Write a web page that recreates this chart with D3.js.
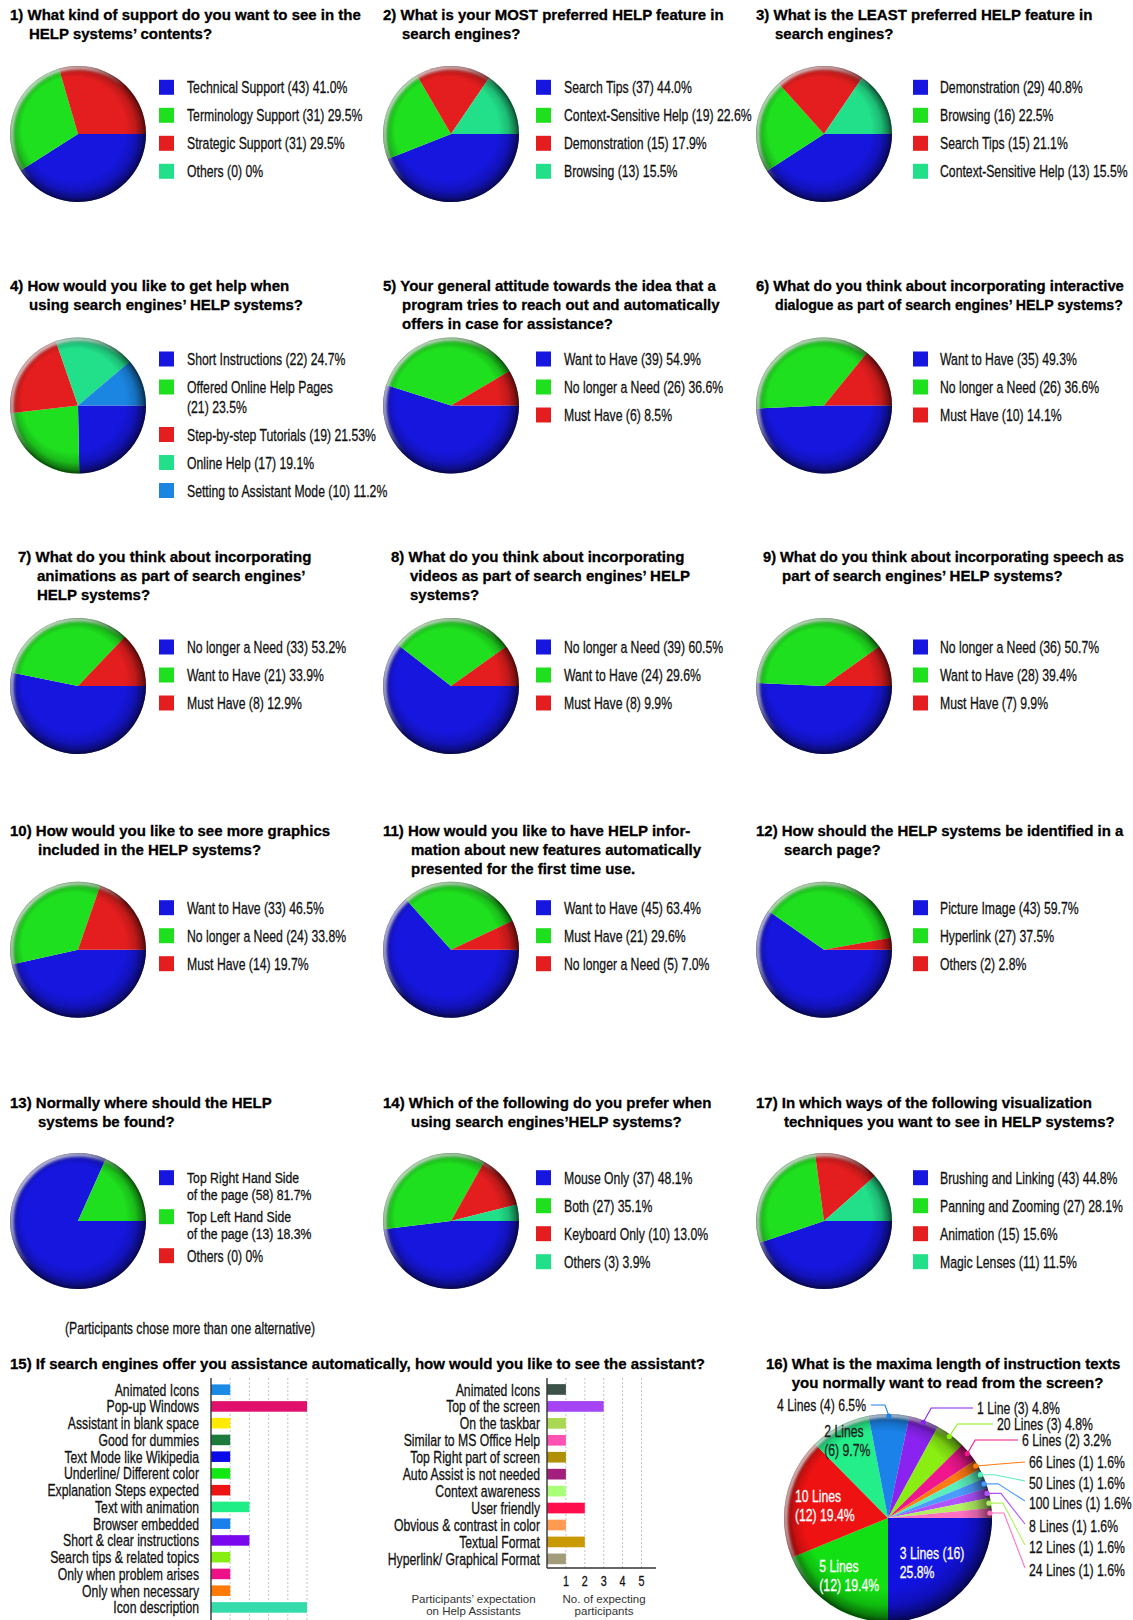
<!DOCTYPE html>
<html><head><meta charset="utf-8">
<script src="https://cdn.jsdelivr.net/npm/d3@7/dist/d3.min.js"></script>
<style>html,body{margin:0;padding:0;background:#fff;}svg{display:block;}</style>
</head><body>
<svg id="chart" width="1133" height="1620"></svg>
<script>
// ================= DATA =================
const pieColors = ["#1616de","#1fe01f","#e41e1e","#22df8a","#1a86e2"];

const q1Title = ["1) What kind of support do you want to see in the","HELP systems’ contents?"];
const q1Names = ["Technical Support","Terminology Support","Strategic Support","Others"];
const q1Counts = [43,31,31,0];
const q1Shares = ["41.0","29.5","29.5","0"];

const q2Title = ["2) What is your MOST preferred HELP feature in","search engines?"];
const q2Names = ["Search Tips","Context-Sensitive Help","Demonstration","Browsing"];
const q2Counts = [37,19,15,13];
const q2Shares = ["44.0","22.6","17.9","15.5"];

const q3Title = ["3) What is the LEAST preferred HELP feature in","search engines?"];
const q3Names = ["Demonstration","Browsing","Search Tips","Context-Sensitive Help"];
const q3Counts = [29,16,15,13];
const q3Shares = ["40.8","22.5","21.1","15.5"];

const q4Title = ["4) How would you like to get help when","using search engines’ HELP systems?"];
const q4Names = ["Short Instructions","Offered Online Help Pages\n","Step-by-step Tutorials","Online Help","Setting to Assistant Mode"];
const q4Counts = [22,21,19,17,10];
const q4Shares = ["24.7","23.5","21.53","19.1","11.2"];

const q5Title = ["5) Your general attitude towards the idea that a","program tries to reach out and automatically","offers in case for assistance?"];
const q5Names = ["Want to Have","No longer a Need","Must Have"];
const q5Counts = [39,26,6];
const q5Shares = ["54.9","36.6","8.5"];

const q6Title = ["6) What do you think about incorporating interactive","dialogue as part of search engines’ HELP systems?"];
const q6Names = ["Want to Have","No longer a Need","Must Have"];
const q6Counts = [35,26,10];
const q6Shares = ["49.3","36.6","14.1"];

const q7Title = ["7) What do you think about incorporating","animations as part of search engines’","HELP systems?"];
const q7Names = ["No longer a Need","Want to Have","Must Have"];
const q7Counts = [33,21,8];
const q7Shares = ["53.2","33.9","12.9"];

const q8Title = ["8) What do you think about incorporating","videos as part of search engines’ HELP","systems?"];
const q8Names = ["No longer a Need","Want to Have","Must Have"];
const q8Counts = [39,24,8];
const q8Shares = ["60.5","29.6","9.9"];

const q9Title = ["9) What do you think about incorporating speech as","part of search engines’ HELP systems?"];
const q9Names = ["No longer a Need","Want to Have","Must Have"];
const q9Counts = [36,28,7];
const q9Shares = ["50.7","39.4","9.9"];

const q10Title = ["10) How would you like to see more graphics","included in the HELP systems?"];
const q10Names = ["Want to Have","No longer a Need","Must Have"];
const q10Counts = [33,24,14];
const q10Shares = ["46.5","33.8","19.7"];

const q11Title = ["11) How would you like to have HELP infor-","mation about new features automatically","presented for the first time use."];
const q11Names = ["Want to Have","Must Have","No longer a Need"];
const q11Counts = [45,21,5];
const q11Shares = ["63.4","29.6","7.0"];

const q12Title = ["12) How should the HELP systems be identified in a","search page?"];
const q12Names = ["Picture Image","Hyperlink","Others"];
const q12Counts = [43,27,2];
const q12Shares = ["59.7","37.5","2.8"];

const q13Title = ["13) Normally where should the HELP","systems be found?"];
const q13Names = ["Top Right Hand Side\nof the page","Top Left Hand Side\nof the page","Others"];
const q13Counts = [58,13,0];
const q13Shares = ["81.7","18.3","0"];

const q14Title = ["14) Which of the following do you prefer when","using search engines’HELP systems?"];
const q14Names = ["Mouse Only","Both","Keyboard Only","Others"];
const q14Counts = [37,27,10,3];
const q14Shares = ["48.1","35.1","13.0","3.9"];

const q17Title = ["17) In which ways of the following visualization","techniques you want to see in HELP systems?"];
const q17Names = ["Brushing and Linking","Panning and Zooming","Animation","Magic Lenses"];
const q17Counts = [43,27,15,11];
const q17Shares = ["44.8","28.1","15.6","11.5"];

const q15Note = "(Participants chose more than one alternative)";
const q15Title = "15) If search engines offer you assistance automatically, how would you like to see the assistant?";
const q15aLabels = ["Animated Icons","Pop-up Windows","Assistant in blank space","Good for dummies","Text Mode like Wikipedia","Underline/ Different color","Explanation Steps expected","Text with animation","Browser embedded","Short & clear instructions","Search tips & related topics","Only when problem arises","Only when necessary","Icon description"];
const q15aValues = [1,5,1,1,1,1,1,2,1,2,1,1,1,5];
const q15aColors = ["#1a8ae6","#e0106c","#ffea00","#1b7a3c","#0a0ae8","#14e814","#ee1414","#1fee86","#1a80ee","#7a08ee","#86ee12","#ee1288","#ff7a06","#33dcaa"];
const q15bLabels = ["Animated Icons","Top of the screen","On the taskbar","Similar to MS Office Help","Top Right part of screen","Auto Assist is not needed","Context awareness","User friendly","Obvious & contrast in color","Textual Format","Hyperlink/ Graphical Format"];
const q15bValues = [1,3,1,1,1,1,1,2,1,2,1];
const q15bColors = ["#3c5249","#a444f2","#a9d852","#ff52b2","#b09004","#a2207c","#aaff78","#ff0c4c","#ff9a52","#c99a04","#a39c7c"];
const q15Ticks = [1,2,3,4,5];
const q15Captions = [["Participants’ expectation","on Help Assistants"],["No. of expecting","participants"]];

const q16Title = ["16) What is the maxima length of instruction texts","you normally want to read from the screen?"];
const q16Names = ["3 Lines","5 Lines","10 Lines","2 Lines","4 Lines","1 Line","20 Lines","6 Lines","66 Lines","50 Lines","100 Lines","8 Lines","12 Lines","24 Lines"];
const q16Counts = [16,12,12,6,4,3,3,2,1,1,1,1,1,1];
const q16Shares = ["25.8","19.4","19.4","9.7","6.5","4.8","4.8","3.2","1.6","1.6","1.6","1.6","1.6","1.6"];
const q16Colors = ["#1212e0","#12e012","#ee1212","#24ee8a","#1a82e8","#8a22f0","#8aee12","#f0168e","#ff7a12","#5aeebc","#4c9cff","#b052ff","#b2f062","#ff72c2"];

// ================= LAYOUT =================
const R = 68;
const colTitleX = [10, 383, 756];
const colPieX = [78, 451, 824];
const colBoxX = [159, 536, 913];
const colTextX = [187, 564, 940];
const rowTitleY = [15, 286, 557, 831, 1103];
const rowPieY = [134, 405.5, 686, 949.7, 1221];
const rowLegY = [87.3, 359, 647, 907.7, 1177.7];

const pies = [
  {t:q1Title,n:q1Names,c:q1Counts,s:q1Shares,row:0,col:0},
  {t:q2Title,n:q2Names,c:q2Counts,s:q2Shares,row:0,col:1},
  {t:q3Title,n:q3Names,c:q3Counts,s:q3Shares,row:0,col:2},
  {t:q4Title,n:q4Names,c:q4Counts,s:q4Shares,row:1,col:0,lineGap:19.5},
  {t:q5Title,n:q5Names,c:q5Counts,s:q5Shares,row:1,col:1},
  {t:q6Title,n:q6Names,c:q6Counts,s:q6Shares,row:1,col:2},
  {t:q7Title,n:q7Names,c:q7Counts,s:q7Shares,row:2,col:0,tx:8},
  {t:q8Title,n:q8Names,c:q8Counts,s:q8Shares,row:2,col:1,tx:8},
  {t:q9Title,n:q9Names,c:q9Counts,s:q9Shares,row:2,col:2,tx:7},
  {t:q10Title,n:q10Names,c:q10Counts,s:q10Shares,row:3,col:0},
  {t:q11Title,n:q11Names,c:q11Counts,s:q11Shares,row:3,col:1},
  {t:q12Title,n:q12Names,c:q12Counts,s:q12Shares,row:3,col:2},
  {t:q13Title,n:q13Names,c:q13Counts,s:q13Shares,row:4,col:0,lineGap:16.6,itemGap:22.4,multiSize:14.5},
  {t:q14Title,n:q14Names,c:q14Counts,s:q14Shares,row:4,col:1},
  {t:q17Title,n:q17Names,c:q17Counts,s:q17Shares,row:4,col:2}
];

// ================= HELPERS =================
const svg = d3.select("#chart");
const BF = '"Liberation Sans",Arial,sans-serif';
const ctx = document.createElement("canvas").getContext("2d");
function natW(s, size, weight){ ctx.font = (weight || "normal") + " " + size + 'px "Liberation Sans", Arial, sans-serif'; return ctx.measureText(s).width; }
const KW = 0.72; // horizontal compression giving the condensed look
function cText(g, str, x, y, o = {}){
  const size = o.size || 17;
  const k = KW * 17 / size * (o.size && !o.keepWidth ? size / 17 : 1);
  return g.append("text").attr("x", 0).attr("y", 0)
    .attr("transform", `translate(${x.toFixed(1)},${y.toFixed(1)}) scale(${k.toFixed(3)},1)`)
    .attr("font-family", BF).attr("font-size", size)
    .attr("fill", o.fill || "#111").attr("stroke", o.fill || "#111").attr("stroke-width", 0.3)
    .attr("text-anchor", o.anchor || "start").text(str);
}
function cWidth(str){ return natW(str, 17) * KW; }
function bText(g, str, x, y){
  const w = natW(str, 15, "bold");
  const fs = x + w > 1124 ? 15 * (1124 - x) / w : 15;
  return g.append("text").attr("x", x).attr("y", y).attr("font-family", BF)
    .attr("font-weight", "bold").attr("font-size", fs.toFixed(2)).attr("fill", "#000")
    .attr("stroke", "#000").attr("stroke-width", 0.3).text(str);
}
function title(g, lines, x, yc){
  const indent = /^\d\d\)/.test(lines[0]) ? 28 : 19;
  lines.forEach((l, i) => bText(g, l, i ? x + indent : x, yc + 5.4 + i * 18.7));
}

// gradients
const defs = svg.append("defs");
const rg = defs.append("radialGradient").attr("id", "shade")
  .attr("cx", "50%").attr("cy", "50%").attr("r", "50%").attr("fx", "37%").attr("fy", "34%");
[[0,"#fff",0],[0.76,"#000",0],[0.88,"#000",0.16],[0.96,"#000",0.45],[1,"#000",0.7]]
  .forEach(([o,c,a]) => rg.append("stop").attr("offset", o).attr("stop-color", c).attr("stop-opacity", a));
const lg = defs.append("linearGradient").attr("id", "hi").attr("x1", "0").attr("y1", "0").attr("x2", "1").attr("y2", "1");
[[0,0.95],[0.3,0.65],[0.5,0]].forEach(([o,a]) => lg.append("stop").attr("offset", o).attr("stop-color", "#fff").attr("stop-opacity", a));
defs.append("filter").attr("id", "blur").attr("x", "-20%").attr("y", "-20%").attr("width", "140%").attr("height", "140%")
  .append("feGaussianBlur").attr("stdDeviation", 1.4);

const pieGen = d3.pie().sort(null).value(d => d).startAngle(Math.PI / 2).endAngle(Math.PI / 2 + 2 * Math.PI);

function drawPie(g, values, colors, r){
  const arc = d3.arc().innerRadius(0).outerRadius(r);
  const arcs = pieGen(values);
  g.selectAll("path.slice").data(arcs).join("path").attr("class", "slice")
    .attr("d", arc).attr("fill", (d, i) => colors[i]);
  g.append("circle").attr("r", r).attr("fill", "url(#shade)");
  g.append("circle").attr("r", r - 1.5).attr("fill", "none").attr("stroke", "url(#hi)")
    .attr("stroke-width", 4).attr("filter", "url(#blur)");
  return arcs;
}

// ================= PIES =================
pies.forEach(p => {
  const g = svg.append("g");
  title(g, p.t, colTitleX[p.col] + (p.tx || 0), rowTitleY[p.row]);
  const pg = g.append("g").attr("transform", `translate(${colPieX[p.col]},${rowPieY[p.row]})`);
  drawPie(pg, p.s.map(Number), pieColors, R);
  const lineGap = p.lineGap || 19, itemGap = p.itemGap || 28;
  let y = rowLegY[p.row];
  p.n.forEach((name, i) => {
    const label = `${name} (${p.c[i]}) ${p.s[i]}%`;
    const lines = label.split("\n").map(s => s.trim());
    g.append("rect").attr("x", colBoxX[p.col]).attr("y", y - 7.5).attr("width", 15).attr("height", 15)
      .attr("fill", pieColors[i]);
    const opt = (lines.length > 1 && p.multiSize) ? {size: p.multiSize, keepWidth: true} : {};
    lines.forEach((l, j) => cText(g, l, colTextX[p.col], y + 6 + j * lineGap - (opt.size ? 0.5 : 0), opt));
    y += (lines.length - 1) * lineGap + itemGap;
  });
});

// ================= Q15 BARS =================
const gb = svg.append("g");
cText(gb, q15Note, 65, 1334);
bText(gb, q15Title, 10, 1368.7);

function drawBars(labels, values, colors, x0, x5, yTop, step, axisBottom, labelX){
  const y = d3.scaleBand().domain(labels).range([yTop, yTop + labels.length * step])
    .paddingInner(0.37).paddingOuter(0.185);
  const x = d3.scaleLinear().domain([0, 5]).range([x0, x5]);
  const g = gb.append("g");
  g.selectAll("line.grid").data(q15Ticks).join("line").attr("class", "grid")
    .attr("x1", d => x(d)).attr("x2", d => x(d)).attr("y1", 1378).attr("y2", axisBottom)
    .attr("stroke", "#c4c4c4").attr("stroke-width", 1).attr("stroke-dasharray", "2,2");
  g.selectAll("rect.bar").data(labels).join("rect").attr("class", "bar")
    .attr("x", x(0)).attr("y", d => y(d)).attr("height", y.bandwidth())
    .attr("width", (d, i) => x(values[i]) - x(0)).attr("fill", (d, i) => colors[i]);
  labels.forEach(l => cText(g, l, labelX, y(l) + y.bandwidth() / 2 + 6, {anchor: "end"}));
  g.append("line").attr("x1", x(0)).attr("x2", x(0)).attr("y1", 1378).attr("y2", axisBottom)
    .attr("stroke", "#333").attr("stroke-width", 1.4);
  return {x, y, g};
}
drawBars(q15aLabels, q15aValues, q15aColors, 211, 307, 1381.3, 16.75, 1620, 199);
const right = drawBars(q15bLabels, q15bValues, q15bColors, 547, 641.5, 1381, 16.94, 1568, 540);
right.g.append("line").attr("x1", 547).attr("x2", 656).attr("y1", 1568).attr("y2", 1568)
  .attr("stroke", "#333").attr("stroke-width", 1.4);
q15Ticks.forEach(t => cText(right.g, String(t), right.x(t), 1586, {anchor: "middle", size: 15}));
[473.5, 604].forEach((cx, i) => {
  q15Captions[i].forEach((l, j) => gb.append("text").attr("x", cx).attr("y", 1602.5 + j * 12)
    .attr("text-anchor", "middle").attr("font-family", BF).attr("font-size", 11.5).attr("fill", "#333").text(l));
});

// ================= Q16 PIE =================
const g16 = svg.append("g");
bText(g16, q16Title[0], 766, 1369.4);
bText(g16, q16Title[1], 791.7, 1388.1);
const c16 = [888, 1518], R16 = 104;
const p16 = g16.append("g").attr("transform", `translate(${c16[0]},${c16[1]})`);
const arcs16 = drawPie(p16, q16Shares.map(Number), q16Colors, R16);

// inner labels
const innerF = [0.6, 0.67, 0.62, 0.84];
const innerArc = i => d3.arc().innerRadius(0).outerRadius(R16 * innerF[i] * 2).centroid(arcs16[i]);
[0,1,2,3].forEach(i => {
  const lines = i === 0 ? [`${q16Names[i]} (${q16Counts[i]})`, `${q16Shares[i]}%`]
                        : [q16Names[i], `(${q16Counts[i]}) ${q16Shares[i]}%`];
  const [cx, cy] = innerArc(i);
  const w = d3.max(lines, l => cWidth(l));
  const x = c16[0] + cx - w / 2;
  lines.forEach((l, j) => cText(g16, l, x, c16[1] + cy - 9.5 + 6 + j * 19,
    {fill: i === 3 ? "#1a1a1a" : "#ffffff"}));
});

// outer labels with leader lines
const outerPos = [[866,1411],[977,1414],[997,1430],[1022,1446],[1029,1468],[1029,1489],[1029,1509],[1029,1532],[1029,1553],[1029,1576]];
outerPos.forEach(([tx, ty], k) => {
  const i = k + 4;
  const a = (arcs16[i].startAngle + arcs16[i].endAngle) / 2;
  const dx = c16[0] + Math.sin(a) * (R16 - 2), dy = c16[1] - Math.cos(a) * (R16 - 2);
  const yc = ty - 6;
  let pts;
  if (k === 0) pts = [[tx + 5, yc], [dx - 4, yc], [dx, dy]];
  else if (k <= 3) pts = [[dx, dy], [dx + 8, yc], [tx - 4, yc]];
  else if (k === 4) pts = [[dx, dy], [tx - 4, yc]];
  else pts = [[dx, dy], [dx + 14, dy], [tx - 4, yc - 2]];
  g16.append("path").attr("d", d3.line()(pts)).attr("fill", "none")
    .attr("stroke", q16Colors[i]).attr("stroke-width", 1.1);
  g16.append("circle").attr("cx", dx).attr("cy", dy).attr("r", 2.6).attr("fill", q16Colors[i]);
  cText(g16, `${q16Names[i]} (${q16Counts[i]}) ${q16Shares[i]}%`, tx, ty, {anchor: k === 0 ? "end" : "start"});
});
</script>
</body></html>
